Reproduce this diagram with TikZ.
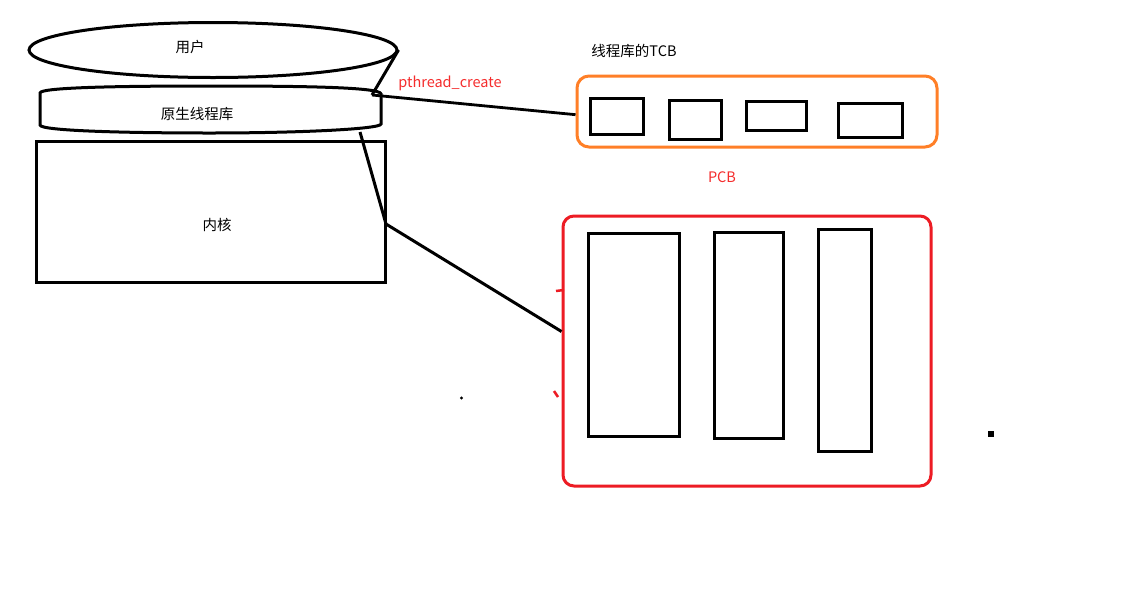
\documentclass[tikz,border=0pt]{standalone}
\usepackage{fontspec}
\setmainfont{Noto Sans CJK SC}
\usetikzlibrary{shapes.geometric,calc}
\definecolor{pred}{RGB}{237,28,36}
\definecolor{porange}{RGB}{255,127,39}
\definecolor{tred}{RGB}{245,45,45}
\tikzset{
  ln/.style={line width=3pt, draw=black},
  lbl/.style={font=\fontsize{14.5}{17}\selectfont, inner sep=0pt},
  rlbl/.style={lbl, text=tred},
  box/.style={draw=black, line width=3pt, inner sep=0pt},
}
\begin{document}
\begin{tikzpicture}[x=1pt,y=-1pt]
\useasboundingbox[fill=white] (0,0) rectangle (1140,606);

% user ellipse
\node[ellipse, draw, line width=3pt, minimum width=368pt, minimum height=55pt, inner sep=0pt] (user) at (213,50) {};
\node[lbl] (userlbl) at (190,47) {用户};

% thread library
\node[minimum width=342pt, minimum height=46pt, inner sep=0pt] (lib) at (210,110) {};
\draw[ln] (40,93) .. controls (40,87) and (130,86) .. (210,86) .. controls (300,86) and (381,87) .. (381,94)
  -- (381,124) .. controls (381,129) and (300,133) .. (210,133) .. controls (130,133) and (40,131) .. (40,125) -- cycle;
\node[lbl] (liblbl) at (197,114) {原生线程库};

% kernel
\node[box, minimum width=349pt, minimum height=141pt] (kernel) at (211,212) {};
\node[lbl] (kernlbl) at (217,225) {内核};

% TCB group
\node[lbl] (tcblbl) at (634,51) {线程库的TCB};
\node[draw=porange, line width=3pt, rounded corners=12pt, minimum width=360pt, minimum height=71pt, inner sep=0pt] (tcb) at (757,111.5) {};
\node[box, minimum width=53pt, minimum height=36pt] (t1) at (616.5,116.5) {};
\node[box, minimum width=52pt, minimum height=39pt] (t2) at (695.5,120) {};
\node[box, minimum width=60pt, minimum height=29pt] (t3) at (776.5,115.5) {};
\node[box, minimum width=64pt, minimum height=34pt] (t4) at (870.5,120.5) {};

% PCB group
\node[rlbl] (pcblbl) at (722,177) {PCB};
\node[draw=pred, line width=3pt, rounded corners=11pt, minimum width=368pt, minimum height=270pt, inner sep=0pt] (pcb) at (747,351) {};
\node[box, minimum width=91pt, minimum height=203pt] (p1) at (633.5,334.5) {};
\node[box, minimum width=69pt, minimum height=206pt] (p2) at (748.5,335) {};
\node[box, minimum width=53pt, minimum height=222pt] (p3) at (844.5,340.5) {};

% connectors
\coordinate (j1) at (372,95);
\coordinate (j2) at (386,224);
\coordinate (lb) at (360,132);
\draw[ln] (user.east) -- (j1);
\draw[line width=2.8pt] (j1) -- (tcb.181);
\draw[ln] (lb) -- (j2) -- (pcb.174);
\node[rlbl] (ptc) at (450,83) {pthread\_create};

% stray marks
\draw[pred, line width=2.5pt] (556,291) -- (564,290);
\draw[pred, line width=2.5pt] (554,391) -- (558,397);
\fill (461.5,398) circle (1.6pt);
\fill (988,431) rectangle (994,437);
\end{tikzpicture}
\end{document}
